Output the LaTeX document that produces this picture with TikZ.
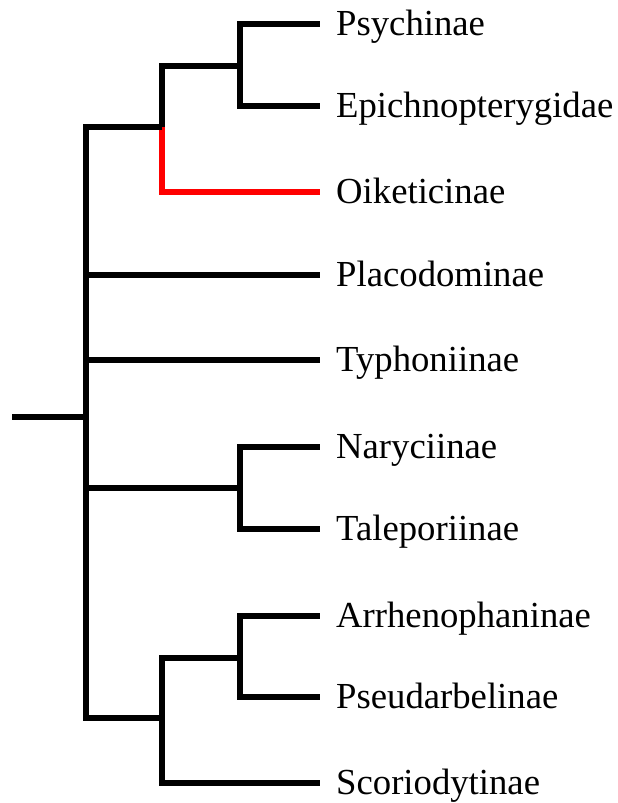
\documentclass[tikz,border=0pt]{standalone}
\usepackage{fontspec}
\setmainfont{Liberation Serif}
\usepackage{xcolor}
\usepackage{tikz}

\begin{document}
\begin{tikzpicture}[x=1pt,y=-1pt,
			br/.style={draw=black,line width=5.3pt},
			sel/.style={draw=red,line width=5.3pt},
			lab/.style={anchor=base west,inner sep=0pt,xshift=16pt,yshift=-11.5pt,
				font=\fontsize{36.7}{40}\selectfont}]
			\useasboundingbox (0,0) rectangle (618,803);
			\coordinate (r0) at (12,417);
			\coordinate (n0) at (86,417);
			\coordinate (ca) at (162,127);
			\coordinate (cb) at (240,66);
			\coordinate (cc) at (240,488);
			\coordinate (cd) at (162,718);
			\coordinate (ce) at (240,658);
			\coordinate (psy) at (320,24);
			\coordinate (epi) at (320,106);
			\coordinate (oik) at (320,192);
			\coordinate (pla) at (320,275);
			\coordinate (typ) at (320,360);
			\coordinate (nar) at (320,447);
			\coordinate (tal) at (320,529);
			\coordinate (arr) at (320,616);
			\coordinate (pse) at (320,697);
			\coordinate (sco) at (320,783);
			\draw[sel] (ca) |- (oik);
			\draw[br] (r0) -- (n0);
			\draw[br] (n0) |- (ca);
			\draw[br] (ca) |- (cb);
			\draw[br] (cb) |- (psy);
			\draw[br] (cb) |- (epi);
			\draw[br] (n0) |- (pla);
			\draw[br] (n0) |- (typ);
			\draw[br] (n0) |- (cc);
			\draw[br] (cc) |- (nar);
			\draw[br] (cc) |- (tal);
			\draw[br] (n0) |- (cd);
			\draw[br] (cd) |- (ce);
			\draw[br] (ce) |- (arr);
			\draw[br] (ce) |- (pse);
			\draw[br] (cd) |- (sco);
			\node[lab] (psyL) at (psy) {Psychinae};
			\node[lab] (epiL) at (epi) {Epichnopterygidae};
			\node[lab] (oikL) at (oik) {Oiketicinae};
			\node[lab] (plaL) at (pla) {Placodominae};
			\node[lab] (typL) at (typ) {Typhoniinae};
			\node[lab] (narL) at (nar) {Naryciinae};
			\node[lab] (talL) at (tal) {Taleporiinae};
			\node[lab] (arrL) at (arr) {Arrhenophaninae};
			\node[lab] (pseL) at (pse) {Pseudarbelinae};
			\node[lab] (scoL) at (sco) {Scoriodytinae};
		\end{tikzpicture}
\end{document}
